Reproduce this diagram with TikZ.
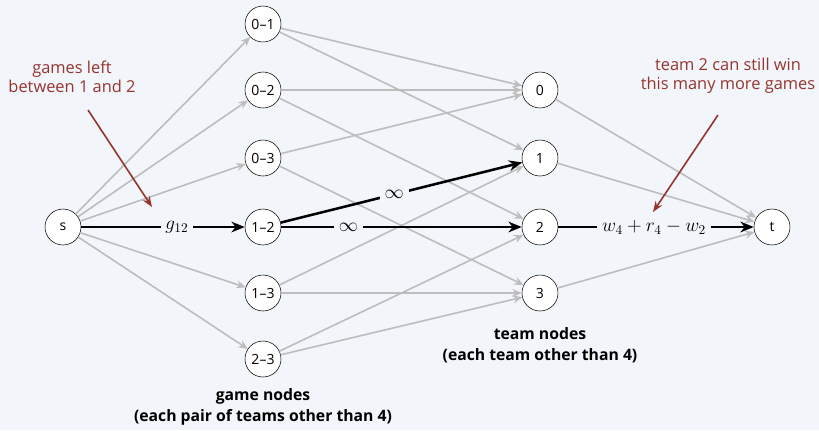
\documentclass[tikz,border=0pt]{standalone}
\usepackage{fontspec}
\setmainfont{Open Sans}
\usetikzlibrary{arrows.meta,positioning}
\definecolor{bgc}{HTML}{F2F5F9}
\definecolor{anno}{HTML}{963430}
\definecolor{edgegray}{HTML}{BDBDBD}
\tikzset{
  vtx/.style={draw, circle, fill=white, minimum size=27pt, inner sep=0pt, font=\fontsize{10.5}{12}\selectfont},
  garr/.style={-{Stealth[length=7pt,width=6pt]}, edgegray, line width=1.2pt},
  barr/.style={-{Stealth[length=10pt,width=8pt]}, black, line width=1.9pt},
  lbl/.style={fill=bgc, inner sep=3.5pt, font=\fontsize{14.5}{16}\selectfont},
  note/.style={anno, align=center, font=\fontsize{12.3}{14}\selectfont},
  narr/.style={-{Stealth[length=8pt,width=6pt]}, anno, line width=1.2pt},
  capt/.style={align=center, font=\bfseries\fontsize{11.8}{16}\selectfont},
}
\begin{document}
\begin{tikzpicture}[x=0.75pt, y=-0.75pt]
\fill[bgc] (0,0) rectangle (819,430);
\useasboundingbox (0,0) rectangle (819,430);

% source and sink
\node[vtx] (s) at (63,227) {s};
\node[vtx] (t) at (772,227) {t};

% game nodes
\node[vtx] (g01) at (263,24) {0--1};
\node[vtx] (g02) at (263,90) {0--2};
\node[vtx] (g03) at (263,158) {0--3};
\node[vtx] (g12) at (263,227) {1--2};
\node[vtx] (g13) at (263,293) {1--3};
\node[vtx] (g23) at (263,359) {2--3};

% team nodes
\node[vtx] (t0) at (540,90) {0};
\node[vtx] (t1) at (540,158) {1};
\node[vtx] (t2) at (540,227) {2};
\node[vtx] (t3) at (540,293) {3};

% gray edges
\foreach \g in {g01,g02,g03,g13,g23}
  \draw[garr] (s) -- (\g);
\draw[garr] (g01) -- (t0);
\draw[garr] (g01) -- (t1);
\draw[garr] (g02) -- (t0);
\draw[garr] (g02) -- (t2);
\draw[garr] (g03) -- (t0);
\draw[garr] (g03) -- (t3);
\draw[garr] (g13) -- (t1);
\draw[garr] (g13) -- (t3);
\draw[garr] (g23) -- (t2);
\draw[garr] (g23) -- (t3);
\foreach \k in {t0,t1,t3}
  \draw[garr] (\k) -- (t);

% black edges
\draw[barr] (s) -- node[lbl, pos=0.585] (cap12) {$g_{12}$} (g12);
\draw[barr] (g12) -- node[lbl, pos=0.47] (inf1) {$\infty$} (t1);
\draw[barr] (g12) -- node[lbl, pos=0.28] (inf2) {$\infty$} (t2);
\draw[barr] (t2) -- node[lbl, pos=0.49] (cap2t) {$w_4 + r_4 - w_2$} (t);

% annotations
\node[note] (leftnote) at (72,77) {games left\\between 1 and 2};
\node[note] (rightnote) at (728,76) {team 2 can still win\\this many more games};
\coordinate (la) at (88,110);
\coordinate (lb) at (152,207);
\coordinate (ra) at (718,115);
\coordinate (rb) at (653,212);
\draw[narr] (la) -- (lb);
\draw[narr] (ra) -- (rb);

% captions
\node[capt] (teamcap) at (540,345) {team nodes\\(each team other than 4)};
\node[capt] (gamecap) at (263,407) {game nodes\\(each pair of teams other than 4)};

\end{tikzpicture}
\end{document}
